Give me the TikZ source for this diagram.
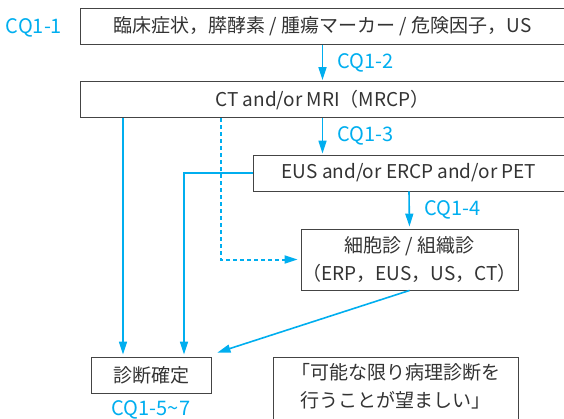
\documentclass[tikz,border=0pt]{standalone}
\usepackage{fontspec}
\setmainfont{Noto Sans CJK JP}
\usetikzlibrary{arrows.meta,calc}
\definecolor{cq}{HTML}{00AEEF}
\definecolor{txt}{HTML}{333333}
\definecolor{bord}{HTML}{444444}
\begin{document}
\begin{tikzpicture}[x=1pt,y=-1pt,
  box/.style={draw=bord,line width=0.9pt,text=txt,inner sep=0pt,font=\fontsize{19}{28}\selectfont,align=center},
  plain/.style={text=txt,inner sep=0pt,font=\fontsize{19}{28}\selectfont,align=center},
  arr/.style={draw=cq,line width=1.6pt,-{Triangle[length=13pt,width=8pt]}},
  dotarr/.style={draw=cq,line width=2pt,dash pattern=on 4pt off 3pt,-{Triangle[length=13pt,width=8pt]}},
  cqlab/.style={text=cq,inner sep=0pt,font=\fontsize{20}{22}\selectfont}]
\useasboundingbox (0,0) rectangle (564,418);
\node[box,minimum width=485,minimum height=36] (b1) at (322.5,26.5) {臨床症状，膵酵素 / 腫瘍マーカー / 危険因子，US};
\node[box,minimum width=485,minimum height=36] (b2) at (322.5,99.6) {CT and/or MRI（MRCP）};
\node[box,minimum width=312,minimum height=36] (b3) at (409,173) {EUS and/or ERCP and/or PET};
\node[box,minimum width=217,minimum height=61] (b4) at (409.5,259.5) {細胞診 / 組織診\\（ERP，EUS，US，CT）};
\node[box,minimum width=120,minimum height=36] (b5) at (151,375) {診断確定};
\node[box,minimum width=245,minimum height=64,anchor=north] (b6) at (395.5,357) {};
\node[plain] (b6t) at (395.5,386) {「可能な限り病理診断を\\行うことが望ましい」};
\coordinate (xl) at (123,0);
\coordinate (xm) at (184,0);
\coordinate (xd) at (220.5,0);
\node[cqlab] (c1) at (34,27.5) {CQ1-1};
\node[cqlab,anchor=west] (c2) at (337,63) {CQ1-2};
\node[cqlab,anchor=west] (c3) at (337,136) {CQ1-3};
\node[cqlab,anchor=west] (c4) at (424,210) {CQ1-4};
\node[cqlab] (c5) at (151,410) {CQ1-5\char`~7};
\draw[arr,shorten >=1pt] (b1.south) -- (b2.north);
\draw[arr,shorten >=1pt] (b2.south) -- (b2.south |- b3.north);
\draw[arr,shorten >=2pt] (b3.south) -- (b4.north);
\draw[arr,shorten >=2pt] (b2.south -| xl) -- (b5.north -| xl);
\draw[arr,shorten >=2pt] (b3.west) -- (xm |- b3.west) -- (xm |- b5.north);
\draw[dotarr,shorten >=3pt] (b2.south -| xd) |- (b4.west);
\draw[arr] (b4.south) -- ([shift={(6,-4)}]b5.north east);
\end{tikzpicture}
\end{document}
